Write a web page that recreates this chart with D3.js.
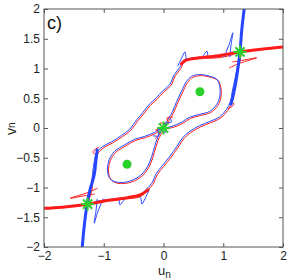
<!DOCTYPE html>
<html>
<head>
<meta charset="utf-8">
<script src="https://cdn.jsdelivr.net/npm/d3@7"></script>
<style>
  body { margin: 0; background: #fff; }
  svg { display: block; font-family: "Liberation Sans", Arial, sans-serif; }
</style>
</head>
<body>
<div id="chart"></div>
<script>
// ── Data (u_n, v_n) ────────────────────────────────────────────────────────

var xTicks = [-2, -1, 0, 1, 2];
var yTicks = [-2, -1.5, -1, -0.5, 0, 0.5, 1, 1.5, 2];

// outer heteroclinic loop through the two outer saddles
var outerLoop = [
  [1.28, 1.28], [1.11, 1.23], [0.90, 1.19], [0.61, 1.18], [0.44, 1.16], [0.34, 1.13],
  [0.28, 1.01], [0.19, 0.89], [0.11, 0.72], [-0.01, 0.61], [-0.11, 0.50], [-0.23, 0.39],
  [-0.34, 0.25], [-0.44, 0.13], [-0.56, -0.03], [-0.69, -0.13], [-0.86, -0.24],
  [-1.01, -0.32], [-1.11, -0.42], [-1.15, -0.57], [-1.18, -0.79], [-1.21, -1.04],
  [-1.26, -1.28], [-1.11, -1.24], [-0.90, -1.21], [-0.61, -1.18], [-0.39, -1.14],
  [-0.28, -1.04], [-0.19, -0.94], [-0.11, -0.77], [-0.01, -0.64], [0.11, -0.49],
  [0.23, -0.32], [0.33, -0.17], [0.44, -0.07], [0.61, 0.03], [0.78, 0.10], [0.95, 0.18],
  [1.06, 0.30], [1.13, 0.44], [1.16, 0.61], [1.21, 0.84], [1.25, 1.06]
];

// figure-eight around the two centres
var upperLoop = [
  [0, 0], [0.08, 0.13], [0.16, 0.27], [0.23, 0.44], [0.31, 0.61], [0.39, 0.77],
  [0.48, 0.86], [0.61, 0.89], [0.75, 0.87], [0.90, 0.81], [0.95, 0.69], [0.95, 0.52],
  [0.90, 0.39], [0.78, 0.27], [0.61, 0.22], [0.44, 0.17], [0.33, 0.10], [0.23, 0.05], [0.11, 0.01]
];
var lowerLoop = [
  [0, 0], [-0.14, -0.08], [-0.31, -0.15], [-0.48, -0.20], [-0.64, -0.29], [-0.81, -0.40],
  [-0.90, -0.54], [-0.93, -0.71], [-0.90, -0.84], [-0.81, -0.91], [-0.64, -0.92],
  [-0.48, -0.87], [-0.36, -0.79], [-0.26, -0.66], [-0.19, -0.49], [-0.14, -0.32], [-0.09, -0.17]
];

// thick unstable (red) and stable (blue) manifolds of the outer saddles
var redLow  = [[-2, -1.35], [-1.7, -1.33], [-1.27, -1.28], [-0.95, -1.22], [-0.6, -1.17], [-0.38, -1.12], [-0.26, -1.04]];
var redHigh = [[2, 1.36], [1.7, 1.33], [1.28, 1.28], [0.95, 1.22], [0.6, 1.18], [0.38, 1.14], [0.30, 1.08]];
var blueHigh = [[1.35, 2], [1.31, 1.65], [1.28, 1.28], [1.23, 0.89], [1.18, 0.61], [1.13, 0.40]];
var blueLow  = [[-1.36, -2], [-1.33, -1.68], [-1.28, -1.29], [-1.23, -1.04], [-1.16, -0.79], [-1.13, -0.54], [-1.11, -0.37]];

// small tangle lobes
var blueSpikes = [
  [[1.01, 1.19], [1.10, 1.41], [1.16, 1.60], [1.13, 1.39], [1.11, 1.19]],
  [[-1.01, -1.19], [-1.10, -1.41], [-1.16, -1.60], [-1.13, -1.39], [-1.11, -1.19]],
  [[0.24, 1.04], [0.31, 1.19], [0.36, 1.28], [0.38, 1.18], [0.41, 1.14]],
  [[-0.24, -1.04], [-0.31, -1.19], [-0.36, -1.28], [-0.38, -1.18], [-0.41, -1.14]],
  [[0.64, 1.18], [0.73, 1.29], [0.74, 1.19]],
  [[-0.64, -1.18], [-0.73, -1.29], [-0.74, -1.19]],
  [[-0.18, -0.13], [-0.08, -0.13], [-0.09, -0.02], [0.04, -0.07], [0.03, 0.07], [0.13, 0.10], [0.11, 0.17]]
];
var redHooks = [
  [[1.10, 1.01], [1.28, 1.09], [1.56, 1.18], [1.33, 1.14], [1.15, 1.11]],
  [[-1.10, -1.01], [-1.28, -1.09], [-1.56, -1.18], [-1.33, -1.14], [-1.15, -1.11]],
  [[-1.08, -0.32], [-1.18, -0.40], [-1.11, -0.47]],
  [[1.08, 0.32], [1.18, 0.40], [1.11, 0.47]],
  [[-0.14, -0.18], [-0.06, -0.08], [-0.13, -0.03], [-0.01, 0], [-0.06, 0.08], [0.08, 0.07], [0.06, 0.17], [0.16, 0.18]]
];

var saddles = [[-1.27, -1.28], [0, 0], [1.28, 1.28]];
var centres = [[-0.61, -0.61], [0.61, 0.61]];

// ── Layout ─────────────────────────────────────────────────────────────────

var W = 289, H = 280;
var margin = { left: 44, top: 9, right: 6, bottom: 33 };
var pw = W - margin.left - margin.right;
var ph = H - margin.top - margin.bottom;

var RED = '#ff1a1a', BLUE = '#2545ff', GREEN = '#2bd12b', AXIS = '#555';

var svg = d3.select('#chart').append('svg')
  .attr('width', W)
  .attr('height', H);

var x = d3.scaleLinear().domain([-2, 2]).range([0, pw]);
var y = d3.scaleLinear().domain([-2, 2]).range([ph, 0]);

var g = svg.append('g').attr('transform', 'translate(' + margin.left + ',' + margin.top + ')');

svg.append('defs').append('clipPath').attr('id', 'clip')
  .append('rect').attr('width', pw).attr('height', ph);

var fmt = function(d) { return String(d).replace('-', '\u2212'); };

// axes with inward ticks on all four sides
function styleAxis(sel) {
  sel.select('.domain').remove();
  sel.selectAll('.tick line').attr('stroke', AXIS);
  sel.selectAll('.tick text').attr('fill', '#222').style('font-size', '12px');
}

g.append('g').attr('transform', 'translate(0,' + ph + ')')
  .call(d3.axisBottom(x).tickValues(xTicks).tickFormat(fmt).tickSizeInner(-4).tickSizeOuter(0).tickPadding(4))
  .call(styleAxis);
g.append('g')
  .call(d3.axisTop(x).tickValues(xTicks).tickFormat('').tickSizeInner(-4).tickSizeOuter(0))
  .call(styleAxis);
g.append('g')
  .call(d3.axisLeft(y).tickValues(yTicks).tickFormat(fmt).tickSizeInner(-4).tickSizeOuter(0).tickPadding(4))
  .call(styleAxis);
g.append('g').attr('transform', 'translate(' + pw + ',0)')
  .call(d3.axisRight(y).tickValues(yTicks).tickFormat('').tickSizeInner(-4).tickSizeOuter(0))
  .call(styleAxis);

// ── Curves ─────────────────────────────────────────────────────────────────

var plot = g.append('g').attr('clip-path', 'url(#clip)');

var line = d3.line()
  .x(function(d) { return x(d[0]); })
  .y(function(d) { return y(d[1]); })
  .curve(d3.curveCatmullRom.alpha(0.5));
var loop = d3.line()
  .x(function(d) { return x(d[0]); })
  .y(function(d) { return y(d[1]); })
  .curve(d3.curveCatmullRomClosed.alpha(0.5));

function thin(path, gen, color, dx, dy) {
  plot.append('path')
    .attr('d', gen(path))
    .attr('transform', 'translate(' + dx + ',' + dy + ')')
    .attr('fill', 'none')
    .attr('stroke', color)
    .attr('stroke-width', 1);
}

[outerLoop, upperLoop, lowerLoop].forEach(function(p) {
  thin(p, loop, RED, 0.6, 0.6);
  thin(p, loop, BLUE, -0.5, -0.5);
});

redHooks.forEach(function(p) { thin(p, line, RED, 0, 0); });
blueSpikes.forEach(function(p) { thin(p, line, BLUE, 0, 0); });

[redLow, redHigh].forEach(function(p) {
  plot.append('path').attr('d', line(p))
    .attr('fill', 'none').attr('stroke', RED).attr('stroke-width', 3).attr('stroke-linecap', 'round');
});
[blueHigh, blueLow].forEach(function(p) {
  plot.append('path').attr('d', line(p))
    .attr('fill', 'none').attr('stroke', BLUE).attr('stroke-width', 3).attr('stroke-linecap', 'round');
});

// ── Fixed points ───────────────────────────────────────────────────────────

plot.selectAll('circle.centre')
  .data(centres)
  .join('circle')
  .attr('class', 'centre')
  .attr('cx', function(d) { return x(d[0]); })
  .attr('cy', function(d) { return y(d[1]); })
  .attr('r', 4.5)
  .attr('fill', GREEN);

var star = svg.append('g').attr('transform', 'translate(' + margin.left + ',' + margin.top + ')')
  .selectAll('g.star')
  .data(saddles)
  .join('g')
  .attr('class', 'star')
  .attr('transform', function(d) { return 'translate(' + x(d[0]) + ',' + y(d[1]) + ')'; });

[0, 45, 90, 135].forEach(function(a) {
  star.append('line')
    .attr('x1', -6.5).attr('x2', 6.5)
    .attr('transform', 'rotate(' + a + ')')
    .attr('stroke', GREEN)
    .attr('stroke-width', 2);
});

// frame
g.append('rect')
  .attr('width', pw).attr('height', ph)
  .attr('fill', 'none').attr('stroke', AXIS).attr('stroke-width', 1);

// ── Labels ─────────────────────────────────────────────────────────────────

var xl = svg.append('text').attr('x', 158).attr('y', 275).attr('fill', '#222');
xl.append('tspan').style('font-size', '13px').text('u');
xl.append('tspan').style('font-size', '10px').attr('dy', 3).text('n');

var yl = svg.append('text').attr('transform', 'translate(16,135) rotate(-90)').attr('fill', '#222');
yl.append('tspan').style('font-size', '14px').text('v');
yl.append('tspan').style('font-size', '10px').attr('dy', -1).text('n');

svg.append('text')
  .attr('x', 47).attr('y', 29)
  .attr('fill', '#111')
  .style('font-size', '18px')
  .text('c)');
</script>
</body>
</html>
